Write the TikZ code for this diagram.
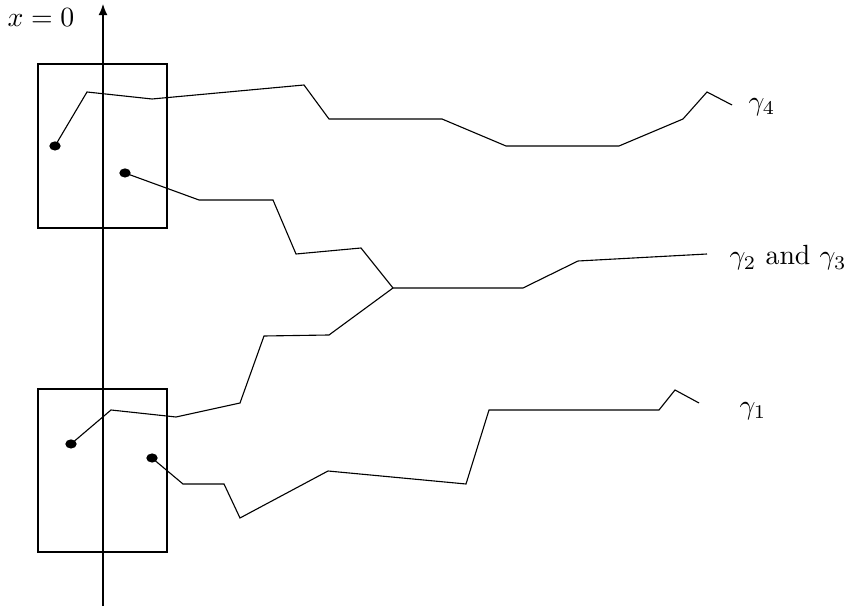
\documentclass[tikz,border=0pt]{standalone}
\usetikzlibrary{shapes.geometric,arrows.meta}
\begin{document}
\begin{tikzpicture}[x=0.36pt,y=-0.36pt,
  dotnode/.style={ellipse,fill=black,inner sep=0pt,minimum width=4.1pt,minimum height=3.3pt},
  pathline/.style={line width=0.4pt,line join=miter},
  boxline/.style={line width=0.45pt},
  lbl/.style={inner sep=0pt}]
\useasboundingbox (0,0) rectangle (847,608);
% axis
\coordinate (axb) at (103,606);
\coordinate (axt) at (103,4);
\draw[line width=0.4pt,-{Latex[length=4pt,width=3.2pt]}] (axb) -- (axt);
\node[lbl] (xlab) at (41,18) {$x=0$};
% boxes
\draw[boxline] (38,64) rectangle (167,228);
\draw[boxline] (38,389) rectangle (167,552);
% dots
\node[dotnode] (d4) at (55,146) {};
\node[dotnode] (d2) at (125,173) {};
\node[dotnode] (d3) at (71,444) {};
\node[dotnode] (d1) at (152,458) {};
% gamma 4
\draw[pathline] (d4.center) -- (87,92) -- (152,99) -- (304,85) -- (329,119) -- (442,119)
  -- (506,146) -- (619,146) -- (683,119) -- (707,92) -- (732,105);
% gamma 2
\coordinate (junc) at (393,288);
\draw[pathline] (d2.center) -- (199,200) -- (273,200) -- (296,254) -- (361,248) -- (junc)
  -- (523,288) -- (578,261) -- (707,254);
% gamma 3
\draw[pathline] (d3.center) -- (111,410) -- (176,417) -- (240,403) -- (264,336) -- (329,335) -- (junc);
% gamma 1
\draw[pathline] (d1.center) -- (183,484) -- (224,484) -- (240,518) -- (328,471) -- (466,484)
  -- (489,410) -- (659,410) -- (675,390) -- (699,403);
% labels
\node[lbl] (g4) at (762,107) {$\gamma_4$};
\node[lbl] (g23) at (788,258) {$\gamma_2$ and $\gamma_3$};
\node[lbl] (g1) at (753,411) {$\gamma_1$};
\end{tikzpicture}
\end{document}
